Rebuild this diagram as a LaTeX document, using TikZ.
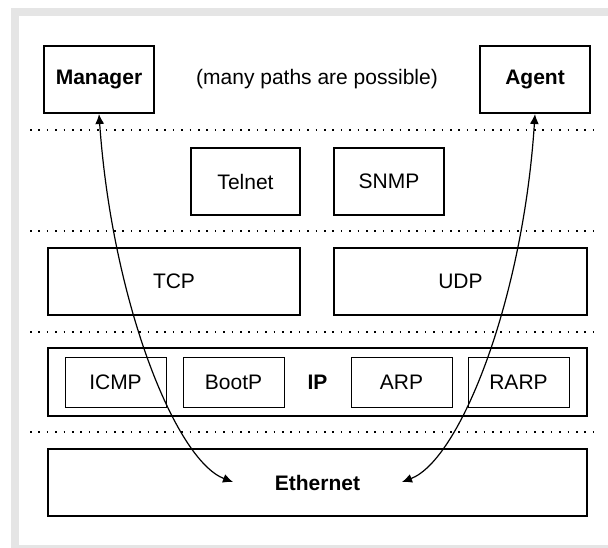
\documentclass[tikz,border=0pt]{standalone}
\usepackage{fontspec}
\setmainfont{Liberation Sans}
\usetikzlibrary{arrows.meta}
\definecolor{framegray}{HTML}{E5E5E5}
\begin{document}
\begin{tikzpicture}[x=1pt,y=-1pt,
  box/.style={draw, line width=2pt, inner sep=0pt, font=\fontsize{21}{25}\selectfont},
  subbox/.style={draw, line width=1pt, inner sep=0pt, minimum width=101pt, minimum height=50pt, font=\fontsize{21}{25}\selectfont},
  plain/.style={inner sep=0pt, font=\fontsize{21}{25}\selectfont},
  sep/.style={line width=1.5pt, dash pattern=on 1.5pt off 6.9pt},
  path/.style={line width=1.2pt, {Latex[length=10pt,width=9pt]}-{Latex[length=10pt,width=9pt]}}
]
\useasboundingbox (0,0) rectangle (608,548);
\fill[white] (0,0) rectangle (608,548);
\begin{scope}
  \clip (0,0) rectangle (608,548);
  \fill[framegray] (11,8) rectangle (620,556);
  \fill[white] (19,16) rectangle (612,545);
\end{scope}

% top row
\node[box, minimum width=110pt, minimum height=67pt] (manager) at (99,79.5) {\textbf{Manager}};
\node[box, minimum width=110pt, minimum height=67pt] (agent) at (535,79.5) {\textbf{Agent}};
\node[plain] (note) at (317,79.5) {(many paths are possible)};

% separators
\foreach \yy/\nm in {130/s1, 231/s2, 332/s3, 432/s4} {
  \coordinate (\nm a) at (30,\yy);
  \coordinate (\nm b) at (600,\yy);
  \draw[sep] (\nm a) -- (\nm b);
}

% application layer
\node[box, minimum width=109pt, minimum height=67pt] (telnet) at (245.5,181.5) {Telnet};
\node[box, minimum width=110pt, minimum height=67pt] (snmp) at (389,181.5) {SNMP};

% transport layer
\node[box, minimum width=252pt, minimum height=67pt] (tcp) at (174,281.5) {TCP};
\node[box, minimum width=253pt, minimum height=67pt] (udp) at (460.5,281.5) {UDP};

% network layer
\node[box, minimum width=539pt, minimum height=68pt] (ip) at (317.5,382) {\textbf{IP}};
\node[subbox] (icmp) at (115.5,382) {ICMP};
\node[subbox] (bootp) at (233.5,382) {BootP};
\node[subbox] (arp) at (401.5,382) {ARP};
\node[subbox] (rarp) at (518.5,382) {RARP};

% link layer
\node[box, minimum width=539pt, minimum height=67pt] (eth) at (317.5,482.5) {\textbf{Ethernet}};
\coordinate (e1) at (233,482);
\coordinate (e2) at (402,482);

% paths
\draw[path] (manager.south) .. controls (112,300) and (175,460) .. (e1);
\draw[path] (agent.south) .. controls (523,300) and (460,460) .. (e2);
\end{tikzpicture}
\end{document}
